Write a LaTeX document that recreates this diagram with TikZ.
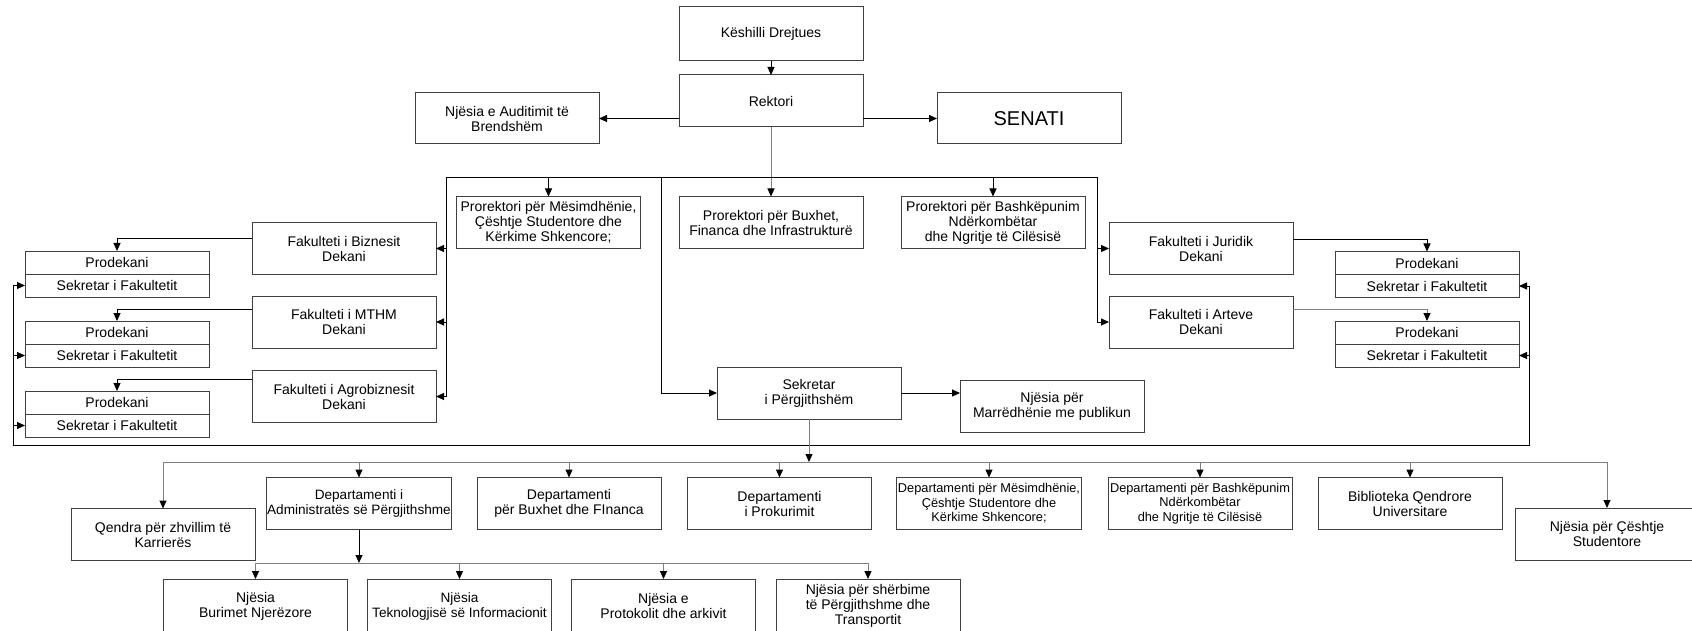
\documentclass[tikz,border=0pt]{standalone}
\usepackage{fontspec}
\setmainfont{Liberation Sans}
\usepackage{tikz}
\usetikzlibrary{arrows.meta,positioning}

\begin{document}
\begin{tikzpicture}[x=1pt,y=-1pt,
  box/.style={draw=black!75, line width=1pt, minimum width=184pt, minimum height=52pt,
    align=center, inner sep=1pt, outer sep=0pt, font=\fontsize{14}{15}\selectfont},
  half/.style={box, minimum height=23pt},
  sm/.style={font=\fontsize{12.8}{14.5}\selectfont},
  smw/.style={font=\fontsize{13.6}{15}\selectfont},
  arr/.style={line width=1pt, -{Triangle[length=8pt,width=7pt,color=black]}},
  garr/.style={arr, draw=black!50},
  ln/.style={line width=0.9pt},
  gln/.style={line width=1pt, draw=black!50}]
\clip (0,0) rectangle (1692,631);

% vedenie
\node[box, minimum height=54pt] (kd) at (771,34) {Këshilli Drejtues};
\node[box] (rek) at (771,101) {Rektori};
\node[box, minimum height=51pt] (aud) at (507,118.5) {Njësia e Auditimit të\\Brendshëm};
\node[box, minimum height=51pt, font=\fontsize{20}{22}\selectfont] (sen) at (1029,118.5) {SENATI};

% prorektori
\node[box] (pm) at (548.5,222.5) {Prorektori për Mësimdhënie,\\Çështje Studentore dhe\\Kërkime Shkencore;};
\node[box] (pb) at (771,222.5) {Prorektori për Buxhet,\\Financa dhe Infrastrukturë};
\node[box] (pn) at (993,222.5) {Prorektori për Bashkëpunim\\Ndërkombëtar\\dhe Ngritje të Cilësisë};

% fakultety
\node[box] (fb) at (344,248.5) {Fakulteti i Biznesit\\Dekani};
\node[box] (fm) at (344,322) {Fakulteti i MTHM\\Dekani};
\node[box] (fa) at (344,396.5) {Fakulteti i Agrobiznesit\\Dekani};
\node[box] (fj) at (1201,248.5) {Fakulteti i Juridik\\Dekani};
\node[box] (far) at (1201,322) {Fakulteti i Arteve\\Dekani};

% prodekani
\node[half] (pdA) at (117,262.5) {Prodekani};
\node[half, below=0pt of pdA] (skA) {Sekretar i Fakultetit};
\node[half] (pdB) at (117,332.5) {Prodekani};
\node[half, below=0pt of pdB] (skB) {Sekretar i Fakultetit};
\node[half] (pdC) at (117,402.5) {Prodekani};
\node[half, below=0pt of pdC] (skC) {Sekretar i Fakultetit};
\node[half] (pdD) at (1427,263) {Prodekani};
\node[half, below=0pt of pdD] (skD) {Sekretar i Fakultetit};
\node[half] (pdE) at (1427,332.5) {Prodekani};
\node[half, below=0pt of pdE] (skE) {Sekretar i Fakultetit};

% sekretar
\node[box] (sek) at (809,393) {Sekretar\\i Përgjithshëm};
\node[box] (mar) at (1052,406.5) {Njësia për\\Marrëdhënie me publikun};

% departamenty
\node[box] (qk) at (163,534.5) {Qendra për zhvillim të\\Karrierës};
\node[box, smw] (dAdm) at (359,503.5) {Departamenti i\\Administratës së Përgjithshme};
\node[box] (dBux) at (569,503.5) {Departamenti\\për Buxhet dhe FInanca};
\node[box] (dPro) at (779.5,503.5) {Departamenti\\i Prokurimit};
\node[box, sm] (dMes) at (989,503.5) {Departamenti për Mësimdhënie,\\Çështje Studentore dhe\\Kërkime Shkencore;};
\node[box, sm] (dBas) at (1200,503.5) {Departamenti për Bashkëpunim\\Ndërkombëtar\\dhe Ngritje të Cilësisë};
\node[box] (bib) at (1410,503.5) {Biblioteka Qendrore\\Universitare};
\node[box] (nsc) at (1607,534) {Njësia për Çështje\\Studentore};

% njesie
\node[box, minimum height=54pt] (nb) at (255.5,606) {Njësia\\Burimet Njerëzore};
\node[box, smw, minimum height=54pt] (nt) at (459.5,606) {Njësia\\Teknologjisë së Informacionit};
\node[box, minimum height=54pt] (np) at (663.5,606) {Njësia e\\Protokolit dhe arkivit};
\node[box, minimum height=54pt] (nsh) at (868,606) {Njësia për shërbime\\të Përgjithshme dhe\\Transportit};

\coordinate (fl) at (446,177);
\coordinate (fr) at (1097,177);
\coordinate (fs) at (661,177);
\coordinate (bl) at (13,445);
\coordinate (br) at (1529,445);
\coordinate (db) at (0,462);
\coordinate (ub) at (0,563);

% rektor
\draw[arr] (kd) -- (rek);
\draw[arr] (rek.west |- aud.east) -- (aud.east);
\draw[arr] (rek.east |- sen.west) -- (sen.west);
\draw[garr] (rek) -- (pb);

% ramec
\draw[ln] (fa.east -| fl) -- (fl) -- (fr) -- (far.west -| fr);
\draw[arr] (pm.north |- fl) -- (pm);
\draw[arr] (pn.north |- fl) -- (pn);
\foreach \n in {fb,fm,fa} \draw[arr] (\n.east -| fl) -- (\n.east);
\foreach \n in {fj,far} \draw[arr] (\n.west -| fr) -- (\n.west);
\draw[arr] (fs) |- (sek.west);
\draw[arr] (sek.east) -- (sek.east -| mar.west);

% fakulteta -> prodekani
\foreach \f/\p in {fb/pdA,fm/pdB,fa/pdC} {
  \coordinate (t) at ([yshift=12pt]\p.north);
  \draw[arr] (t -| \f.west) -| (\p.north);
}
\coordinate (t) at ([yshift=12pt]pdD.north);
\draw[arr] (t -| fj.east) -| (pdD.north);
\coordinate (t) at ([yshift=12pt]pdE.north);
\draw[garr] (t -| far.east) -| (pdE.north);

% sekretari fakultetu
\draw[ln] (skA.west -| bl) -- (bl) -- (br) -- (skD.east -| br);
\foreach \s in {skA,skB,skC} \draw[arr] (\s.west -| bl) -- (\s.west);
\foreach \s in {skD,skE} \draw[arr] (\s.east -| br) -- (\s.east);

% departamenty
\draw[garr] (sek) -- (sek |- db);
\draw[gln] (qk.north |- db) -- (nsc.north |- db);
\foreach \d in {qk,dAdm,dBux,dPro,dMes,dBas,bib,nsc} \draw[garr] (\d.north |- db) -- (\d.north);

% njesie
\draw[arr] (dAdm) -- (dAdm |- ub);
\draw[gln] (nb.north |- ub) -- (nsh.north |- ub);
\foreach \u in {nb,nt,np,nsh} \draw[garr] (\u.north |- ub) -- (\u.north);
\end{tikzpicture}
\end{document}
